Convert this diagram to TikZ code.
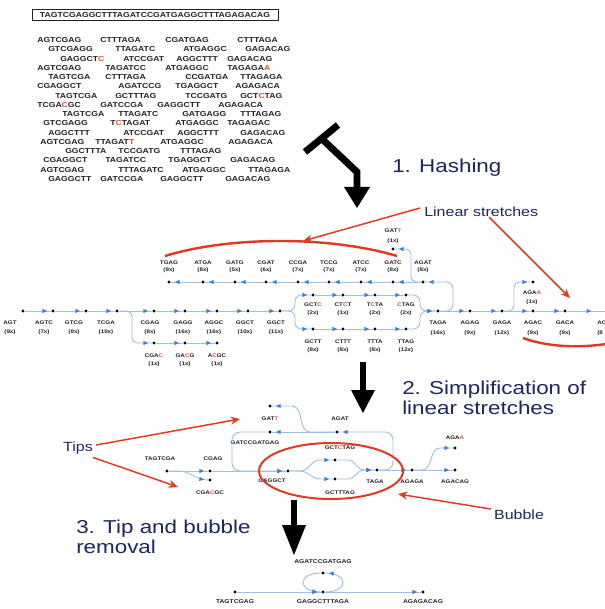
\documentclass[tikz,border=0pt]{standalone}
\usepackage{fontspec}
\newfontfamily\lsans[FakeStretch=1.2]{Liberation Sans}
\usetikzlibrary{arrows.meta,decorations.markings}
\definecolor{edgeblue}{HTML}{9DBFE8}
\definecolor{arrowblue}{HTML}{3F7FD0}
\definecolor{errred}{HTML}{E8502A}
\definecolor{annred}{HTML}{E03A22}
\definecolor{navy}{HTML}{1E2660}
\definecolor{txt}{HTML}{222222}
\newcommand{\redch}[1]{\textcolor{errred}{#1}}
\begin{document}
\begin{tikzpicture}[x=0.75pt,y=-0.75pt,
  dot/.style={circle,fill=black,inner sep=0pt,minimum size=2.4pt},
  readtxt/.style={anchor=west,inner sep=0pt,text=txt,font=\lsans\bfseries\fontsize{5.4}{6}\selectfont},
  kmer/.style={inner sep=0pt,text=txt,font=\lsans\bfseries\fontsize{3.9}{4.5}\selectfont},
  ctg/.style={inner sep=0pt,text=txt,font=\lsans\bfseries\fontsize{4.2}{5}\selectfont},
  edge/.style={draw=edgeblue,line width=0.7pt,postaction={decorate,decoration={markings,
      mark=at position #1 with {\arrow{Triangle[length=3.6pt,width=3pt,color=arrowblue]}}}}},
  edge/.default=-3pt,
  bigtxt/.style={inner sep=0pt,text=navy,font=\lsans\fontsize{14}{15}\selectfont},
  note/.style={inner sep=0pt,text=navy,font=\lsans\fontsize{10}{12}\selectfont},
  annot/.style={draw=annred,line width=1.1pt,-{Stealth[length=7pt,width=6pt]}},
  stretch/.style={draw=annred,line width=1.8pt},
  bigarrow/.style={fill=black},
]
\useasboundingbox (0,0) rectangle (605,609);
\clip (0,0) rectangle (605,609);
\fill[white] (0,0) rectangle (605,609);

% ---------- genome and reads ----------
\node[draw=txt,line width=0.5pt,minimum width=246*0.75pt,minimum height=11*0.75pt,inner sep=0pt,
      font=\lsans\bfseries\fontsize{5.4}{6}\selectfont,text=txt] (genome) at (155,15)
      {TAGTCGAGGCTTTAGATCCGATGAGGCTTTAGAGACAG};

\foreach \r/\items in {
  1/{37/AGTCGAG,100/CTTTAGA,165/CGATGAG,237/CTTTAGA},
  2/{48/GTCGAGG,115/TTAGATC,183/ATGAGGC,245/GAGACAG},
  3/{60/GAGGCT\redch{C},123/ATCCGAT,176/AGGCTTT,227/GAGACAG},
  4/{37/AGTCGAG,105/TAGATCC,165/ATGAGGC,227/TAGAGA\redch{A}},
  5/{48/TAGTCGA,105/CTTTAGA,185/CCGATGA,240/TTAGAGA},
  6/{37/CGAGGCT,118/AGATCCG,175/TGAGGCT,235/AGAGACA},
  7/{55/TAGTCGA,115/GCTTTAG,185/TCCGATG,240/GCT\redch{C}TAG},
  8/{37/TCGA\redch{C}GC,100/GATCCGA,157/GAGGCTT,218/AGAGACA},
  9/{62/TAGTCGA,118/TTAGATC,182/GATGAGG,240/TTTAGAG},
  10/{43/GTCGAGG,110/T\redch{C}TAGAT,175/ATGAGGC,227/TAGAGAC},
  11/{48/AGGCTTT,123/ATCCGAT,177/AGGCTTT,240/GAGACAG},
  12/{40/AGTCGAG,95/TTAGAT\redch{T},160/ATGAGGC,228/AGAGACA},
  13/{65/GGCTTTA,118/TCCGATG,180/TTTAGAG},
  14/{43/CGAGGCT,105/TAGATCC,168/TGAGGCT,230/GAGACAG},
  15/{40/AGTCGAG,118/TTTAGATC,182/ATGAGGC,248/TTAGAGA},
  16/{48/GAGGCTT,100/GATCCGA,160/GAGGCTT,225/GAGACAG}}{
  \foreach \x/\s in \items {
    \node[readtxt] (read-\r-\x) at (\x,{40+9.27*(\r-1)}) {\s};
  }
}

% ---------- step arrows ----------
\draw[line width=5.2pt] (305,152) -- (338,125);
\draw[line width=5.2pt,line join=miter] (321.5,138.5) -- (357,172) -- (357,189);
\fill[bigarrow] (344,187) -- (370,187) -- (357,208) -- cycle;
\node[bigtxt,anchor=west] (hashing) at (392,168) {1. Hashing};

\draw[line width=5.2pt] (363,362) -- (363,392);
\fill[bigarrow] (351,390) -- (375,390) -- (363,413) -- cycle;
\node[bigtxt,anchor=west,align=left] (simplify) at (402,398) {2. Simplification of\\linear stretches};

\draw[line width=5.2pt] (294,500) -- (294,527);
\fill[bigarrow] (282,525) -- (306,525) -- (294,555) -- cycle;
\node[bigtxt,anchor=west,align=left] (removal) at (76,537) {3. Tip and bubble\\removal};

% ---------- de Bruijn graph of 4-mers ----------
\foreach \n/\x/\k/\cnt in {t1/169/TGAG/9,t2/203/ATGA/8,t3/235/GATG/5,t4/266/CGAT/6,t5/298/CCGA/7,
                           t6/329/TCCG/7,t7/361/ATCC/7,t8/393/GATC/8,t9/423/AGAT/8}{
  \node[dot] (\n) at (\x,282) {};
  \node[kmer] (\n-k) at (\x,263) {\k};
  \node[kmer] (\n-c) at (\x,270) {(\cnt x)};
}
\node[dot] (gatt) at (393,249) {};
\node[kmer] (gatt-k) at (393,231) {GAT\redch{T}};
\node[kmer] (gatt-c) at (393,241) {(1x)};

\foreach \n/\x/\lx/\k/\cnt in {m1/23/10/AGT/9,m2/53/44/AGTC/7,m3/86/74/GTCG/8,m4/117/106/TCGA/10,
                               m5/154/150/CGAG/8,m6/185/183/GAGG/16,m7/217/214/AGGC/16,
                               m8/248/245/GGCT/10,m9/280/276/GGCT/11}{
  \node[dot] (\n) at (\x,311) {};
  \node[kmer] (\n-k) at (\lx,323) {\k};
  \node[kmer] (\n-c) at (\lx,332) {(\cnt x)};
}
\foreach \n/\x/\k in {b1/154/CGA\redch{C},b2/185/GA\redch{C}G,b3/217/A\redch{C}GC}{
  \node[dot] (\n) at (\x,343) {};
  \node[kmer] (\n-k) at (\x,356) {\k};
  \node[kmer] (\n-c) at (\x,364) {(1x)};
}
\foreach \n/\x/\k/\cnt in {u1/313/GCT\redch{C}/2,u2/343/CT\redch{C}T/1,u3/375/T\redch{C}TA/2,u4/406/\redch{C}TAG/2}{
  \node[dot] (\n) at (\x,295) {};
  \node[kmer] (\n-k) at (\x,305) {\k};
  \node[kmer] (\n-c) at (\x,313) {(\cnt x)};
}
\foreach \n/\x/\k/\cnt in {l1/313/GCTT/8,l2/343/CTTT/8,l3/375/TTTA/8,l4/406/TTAG/12}{
  \node[dot] (\n) at (\x,329) {};
  \node[kmer] (\n-k) at (\x,342) {\k};
  \node[kmer] (\n-c) at (\x,350) {(\cnt x)};
}
\foreach \n/\x/\k/\cnt in {r1/438/TAGA/16,r2/470/AGAG/9,r3/502/GAGA/12,r4/533/AGAC/9,r5/565/GACA/9}{
  \node[dot] (\n) at (\x,311) {};
  \node[kmer] (\n-k) at (\x,323) {\k};
  \node[kmer] (\n-c) at (\x,333) {(\cnt x)};
}
% the stretch runs on past the right edge
\coordinate (r6) at (606,311);
\node[kmer,anchor=west] (r6-k) at (597,323) {AC};
\node[kmer,anchor=west] (r6-c) at (597,333) {(8};
\node[dot] (agaa) at (533,282) {};
\node[kmer] (agaa-k) at (532,293) {AGA\redch{A}};
\node[kmer] (agaa-c) at (532,302) {(1x)};

\foreach \a/\b in {t9/t8,t8/t7,t7/t6,t6/t5,t5/t4,t4/t3,t3/t2,t2/t1,
                   m1/m2,m2/m3,m3/m4,m4/m5,m5/m6,m6/m7,m7/m8,m8/m9,
                   b1/b2,b2/b3,u1/u2,u2/u3,u3/u4,l1/l2,l2/l3,l3/l4,
                   r1/r2,r2/r3,r3/r4,r4/r5}
  \draw[edge] (\a) -- (\b);
\draw[edge=-11pt] (r5) -- (r6);
\draw[edge,rounded corners=4pt] (t9) -- (411,282) |- (gatt);
\draw[edge,rounded corners=5pt] (r1) -- (453,311) |- (t9);
\draw[edge,rounded corners=4pt] (m4) -- (132,311) |- (b1);
\draw[edge,rounded corners=5pt] (m9) -- (295,311) |- (u1);
\draw[edge,rounded corners=5pt] (m9) -- (295,311) |- (l1);
\draw[edge,rounded corners=5pt] (u4) -- (420,295) |- (r1);
\draw[edge,rounded corners=5pt] (l4) -- (420,329) |- (r1);
\draw[edge,rounded corners=4pt] (r3) -- (514,311) |- (agaa);

% linear stretch annotations
\node[note,anchor=west] (linlabel) at (424,212) {Linear stretches};
\draw[stretch] (165,256) .. controls (230,236) and (330,236) .. (397,256);
\draw[stretch] (523,338) .. controls (550,348) and (585,348) .. (612,343);
\draw[annot] (linlabel.west) ++(-4,-4) -- (303,241);
\draw[annot] (linlabel.south) ++(8,0) -- (570,298);

% ---------- simplified graph ----------
\node[dot] (sgatt) at (270,406) {};
\node[kmer] (sgatt-k) at (270,419) {GAT\redch{T}};
\node[dot] (sagat) at (337,432) {};
\node[kmer] (sagat-k) at (340,419) {AGAT};
\node[dot] (sgcc) at (270,432) {};
\node[kmer] (sgcc-k) at (255,443) {GATCCGATGAG};
\node[dot] (stag) at (167,471) {};
\node[kmer] (stag-k) at (160,459) {TAGTCGA};
\node[dot] (scgag) at (210,471) {};
\node[kmer] (scgag-k) at (213,459) {CGAG};
\node[dot] (stip) at (210,480) {};
\node[kmer] (stip-k) at (210,493) {CGA\redch{C}GC};
\node[dot] (sgag) at (288,471) {};
\node[kmer] (sgag-k) at (272,481) {GAGGCT};
\node[dot] (sup1) at (335,460) {};
\node[kmer] (sup1-k) at (340,448) {GCT\redch{C}TAG};
\node[dot] (slo1) at (335,479) {};
\node[kmer] (slo1-k) at (340,493) {GCTTTAG};
\node[dot] (staga) at (377,470) {};
\node[kmer] (staga-k) at (375,482) {TAGA};
\node[dot] (sagaga) at (412,470) {};
\node[kmer] (sagaga-k) at (412,482) {AGAGA};
\node[dot] (sagaa) at (455,448) {};
\node[kmer] (sagaa-k) at (455,438) {AGA\redch{A}};
\node[dot] (sacag) at (455,470) {};
\node[kmer] (sacag-k) at (455,482) {AGACAG};

\draw[edge] (stag) -- (scgag);
\draw[edge] (stag) -- (178,471) to[out=0,in=180] (stip);
\draw[edge] (scgag) -- (sgag);
\draw[edge,rounded corners=6pt] (sgcc) -| (232,471) -- (sgag);
\draw[edge] (sagat) -- (sgcc);
\draw[edge] (sagat) -- (310,432) to[out=180,in=0] (292,406) -- (sgatt);
\draw[edge] (sgag) -- (300,471) to[out=0,in=180] (320,460) -- (sup1);
\draw[edge] (sgag) -- (300,471) to[out=0,in=180] (320,479) -- (slo1);
\draw[edge] (sup1) -- (348,460) to[out=0,in=180] (364,470) -- (staga);
\draw[edge] (slo1) -- (348,479) to[out=0,in=180] (364,470) -- (staga);
\draw[edge,rounded corners=6pt] (staga) -| (393,432) -- (sagat);
\draw[edge] (staga) -- (sagaga);
\draw[edge] (sagaga) -- (422,470) to[out=0,in=180] (440,448) -- (sagaa);
\draw[edge] (sagaga) -- (sacag);

% tip and bubble annotations
\node[note] (tips) at (78,448) {Tips};
\draw[annot] (tips.east) ++(3,-3) -- (240,419);
\draw[annot] (tips.south east) ++(0,3) -- (178,487);
\draw[draw=annred,line width=1.5pt] (331,471) ellipse [x radius=72, y radius=28];
\node[note] (bubble) at (519,515) {Bubble};
\draw[annot] (bubble.west) ++(-3,-6) -- (398,494);

% ---------- graph after tip and bubble removal ----------
\node[dot] (ftag) at (235,592) {};
\node[ctg] (ftag-k) at (235,602) {TAGTCGAG};
\node[dot] (fmid) at (323,592) {};
\node[ctg] (fmid-k) at (323,602) {GAGGCTTTAGA};
\node[dot] (ftop) at (323,573) {};
\node[ctg] (ftop-k) at (323,562) {AGATCCGATGAG};
\node[dot] (fend) at (423,592) {};
\node[ctg] (fend-k) at (423,602) {AGAGACAG};
\draw[edge] (ftag) -- (fmid);
\draw[edge] (fmid) -- (fend);
\draw[edge] (ftop) .. controls (297,573) and (297,592) .. (fmid);
\draw[edge] (fmid) .. controls (349,592) and (349,573) .. (ftop);
\end{tikzpicture}
\end{document}
